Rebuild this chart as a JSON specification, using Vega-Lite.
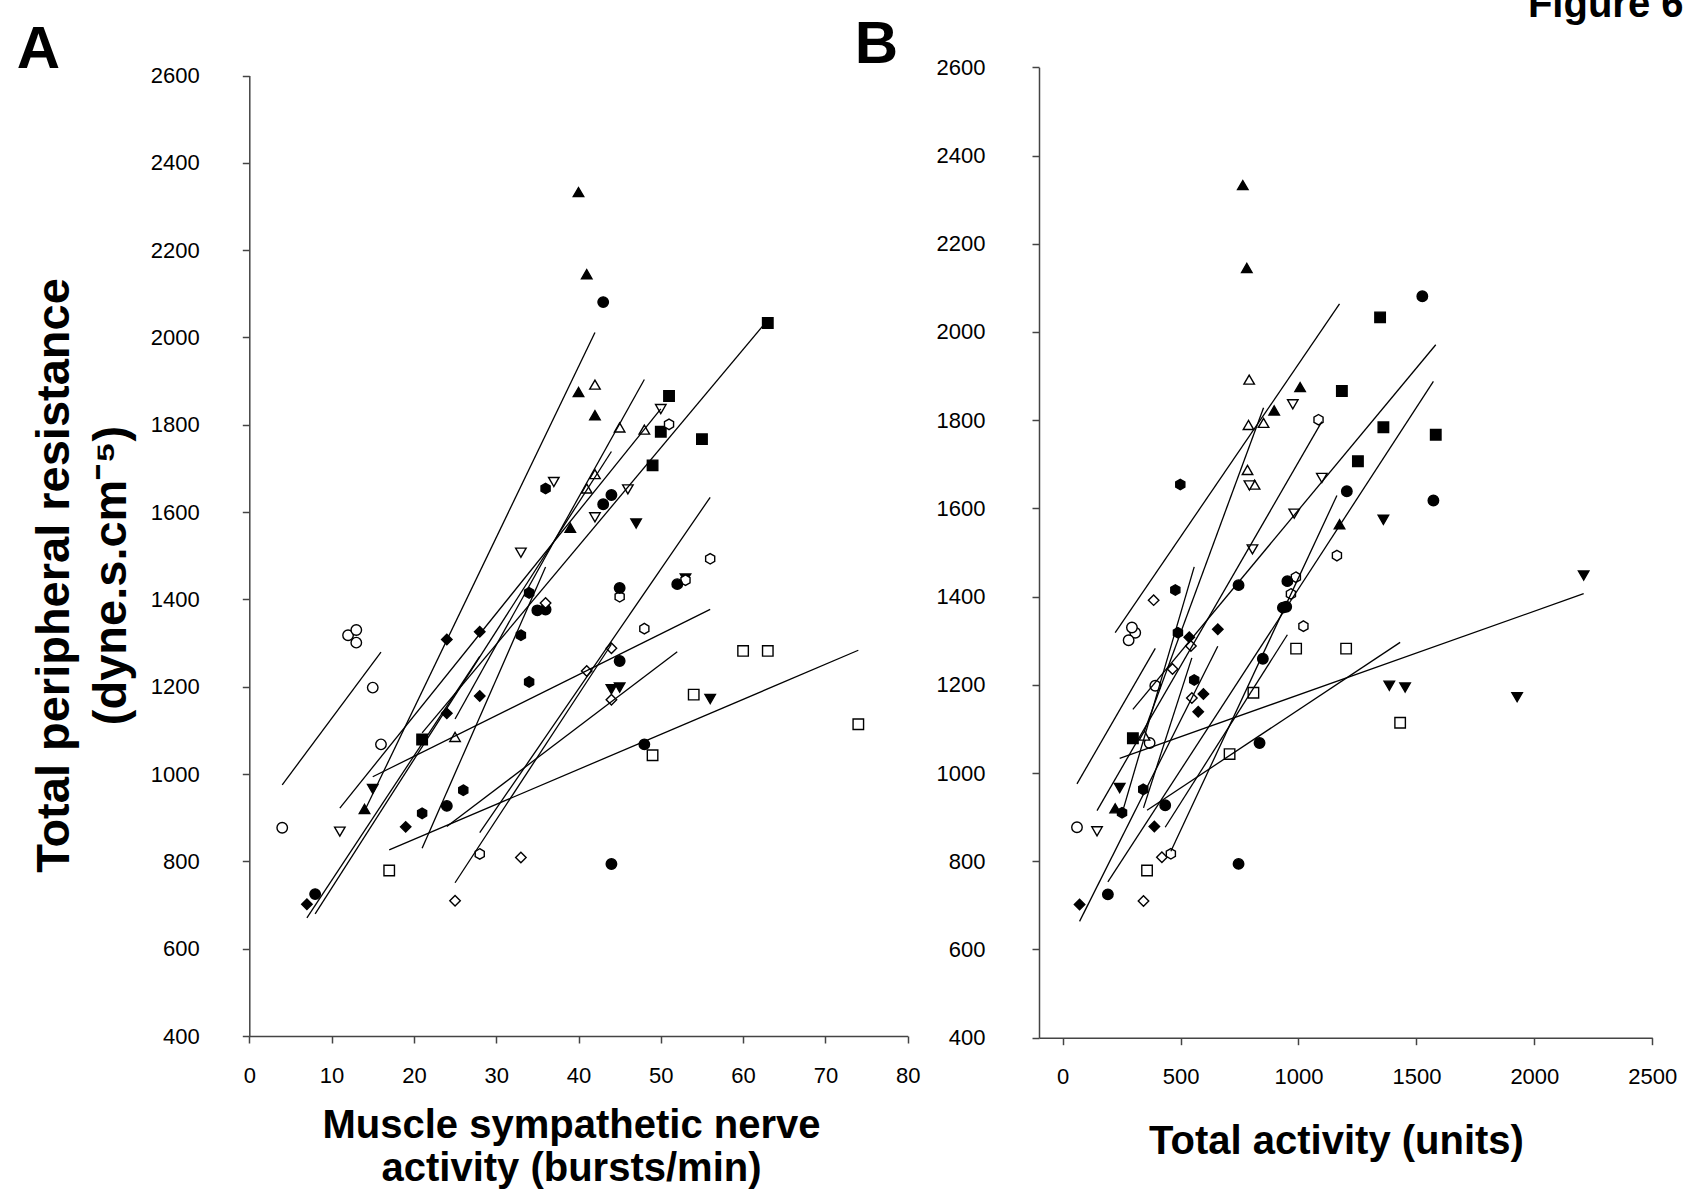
{
  "$schema": "https://vega.github.io/schema/vega-lite/v6.json",
  "width": 1692,
  "height": 1196,
  "autosize": {"type": "none"},
  "padding": 0,
  "background": "white",
  "config": {
    "view": {"stroke": null},
    "axis": {
      "grid": false,
      "labelFont": "Liberation Sans",
      "titleFont": "Liberation Sans",
      "labelFontSize": 22,
      "labelColor": "black",
      "titleColor": "black",
      "domainColor": "#444",
      "tickColor": "#444",
      "domainWidth": 1.5,
      "tickWidth": 1.5,
      "tickSize": 7,
      "labelFlush": false,
      "labelOverlap": false,
      "format": "d"
    }
  },
  "data": {
    "values": [
      {"s": "s1", "msna": 8, "ta": 192, "tpr": 725},
      {"s": "s1", "msna": 43, "ta": 1525, "tpr": 2081},
      {"s": "s1", "msna": 44, "ta": 1205, "tpr": 1639},
      {"s": "s1", "msna": 43, "ta": 1572, "tpr": 1618},
      {"s": "s1", "msna": 35, "ta": 934, "tpr": 1375},
      {"s": "s1", "msna": 36, "ta": 948, "tpr": 1377},
      {"s": "s2", "msna": 4, "ta": 61, "tpr": 877},
      {"s": "s2", "msna": 12, "ta": 308, "tpr": 1318},
      {"s": "s2", "msna": 13, "ta": 294, "tpr": 1330},
      {"s": "s2", "msna": 13, "ta": 280, "tpr": 1301},
      {"s": "s2", "msna": 15, "ta": 393, "tpr": 1198},
      {"s": "s2", "msna": 16, "ta": 369, "tpr": 1068},
      {"s": "s3", "msna": 15, "ta": 242, "tpr": 966},
      {"s": "s3", "msna": 44, "ta": 1452, "tpr": 1194},
      {"s": "s3", "msna": 45, "ta": 1385, "tpr": 1198},
      {"s": "s3", "msna": 47, "ta": 1360, "tpr": 1574},
      {"s": "s3", "msna": 56, "ta": 1927, "tpr": 1172},
      {"s": "s3", "msna": 53, "ta": 2209, "tpr": 1448},
      {"s": "s4", "msna": 42, "ta": 791, "tpr": 1892},
      {"s": "s4", "msna": 45, "ta": 852, "tpr": 1794},
      {"s": "s4", "msna": 48, "ta": 788, "tpr": 1789},
      {"s": "s4", "msna": 42, "ta": 784, "tpr": 1687},
      {"s": "s4", "msna": 41, "ta": 814, "tpr": 1654},
      {"s": "s4", "msna": 25, "ta": 347, "tpr": 1085},
      {"s": "s5", "msna": 21, "ta": 298, "tpr": 1079},
      {"s": "s5", "msna": 49, "ta": 1252, "tpr": 1707},
      {"s": "s5", "msna": 50, "ta": 1360, "tpr": 1784},
      {"s": "s5", "msna": 51, "ta": 1184, "tpr": 1866},
      {"s": "s5", "msna": 55, "ta": 1582, "tpr": 1767},
      {"s": "s5", "msna": 63, "ta": 1346, "tpr": 2033},
      {"s": "s6", "msna": 17, "ta": 358, "tpr": 779},
      {"s": "s6", "msna": 49, "ta": 708, "tpr": 1043},
      {"s": "s6", "msna": 54, "ta": 809, "tpr": 1182},
      {"s": "s6", "msna": 60, "ta": 990, "tpr": 1282},
      {"s": "s6", "msna": 63, "ta": 1202, "tpr": 1282},
      {"s": "s6", "msna": 74, "ta": 1431, "tpr": 1114},
      {"s": "s7", "msna": 7, "ta": 72, "tpr": 702},
      {"s": "s7", "msna": 19, "ta": 389, "tpr": 879},
      {"s": "s7", "msna": 24, "ta": 575, "tpr": 1139},
      {"s": "s7", "msna": 24, "ta": 537, "tpr": 1308},
      {"s": "s7", "msna": 28, "ta": 658, "tpr": 1326},
      {"s": "s7", "msna": 28, "ta": 597, "tpr": 1179},
      {"s": "s8", "msna": 25, "ta": 343, "tpr": 710},
      {"s": "s8", "msna": 33, "ta": 421, "tpr": 809},
      {"s": "s8", "msna": 36, "ta": 386, "tpr": 1392},
      {"s": "s8", "msna": 41, "ta": 466, "tpr": 1236},
      {"s": "s8", "msna": 44, "ta": 544, "tpr": 1288},
      {"s": "s8", "msna": 44, "ta": 548, "tpr": 1170},
      {"s": "s9", "msna": 14, "ta": 223, "tpr": 920},
      {"s": "s9", "msna": 39, "ta": 1174, "tpr": 1564},
      {"s": "s9", "msna": 40, "ta": 764, "tpr": 2333},
      {"s": "s9", "msna": 41, "ta": 781, "tpr": 2145},
      {"s": "s9", "msna": 40, "ta": 1007, "tpr": 1875},
      {"s": "s9", "msna": 42, "ta": 897, "tpr": 1822},
      {"s": "s10", "msna": 50, "ta": 976, "tpr": 1836},
      {"s": "s10", "msna": 37, "ta": 1099, "tpr": 1669},
      {"s": "s10", "msna": 46, "ta": 792, "tpr": 1652},
      {"s": "s10", "msna": 42, "ta": 982, "tpr": 1588},
      {"s": "s10", "msna": 33, "ta": 805, "tpr": 1507},
      {"s": "s10", "msna": 11, "ta": 146, "tpr": 868},
      {"s": "s11", "msna": 21, "ta": 252, "tpr": 910},
      {"s": "s11", "msna": 26, "ta": 342, "tpr": 963},
      {"s": "s11", "msna": 34, "ta": 478, "tpr": 1415},
      {"s": "s11", "msna": 36, "ta": 499, "tpr": 1654},
      {"s": "s11", "msna": 33, "ta": 489, "tpr": 1318},
      {"s": "s11", "msna": 34, "ta": 558, "tpr": 1211},
      {"s": "s12", "msna": 51, "ta": 1085, "tpr": 1801},
      {"s": "s12", "msna": 56, "ta": 1163, "tpr": 1493},
      {"s": "s12", "msna": 53, "ta": 989, "tpr": 1444},
      {"s": "s12", "msna": 45, "ta": 968, "tpr": 1406},
      {"s": "s12", "msna": 48, "ta": 1021, "tpr": 1333},
      {"s": "s12", "msna": 28, "ta": 459, "tpr": 817},
      {"s": "s13", "msna": 24, "ta": 435, "tpr": 927},
      {"s": "s13", "msna": 44, "ta": 746, "tpr": 794},
      {"s": "s13", "msna": 48, "ta": 835, "tpr": 1068},
      {"s": "s13", "msna": 45, "ta": 849, "tpr": 1259},
      {"s": "s13", "msna": 45, "ta": 746, "tpr": 1426},
      {"s": "s13", "msna": 52, "ta": 953, "tpr": 1435}
    ]
  },
  "resolve": {
    "scale": {"x": "independent", "y": "independent"},
    "axis": {"x": "independent", "y": "independent"}
  },
  "layer": [
    {
      "mark": {"type": "point", "filled": true, "stroke": "black", "strokeWidth": 1.4, "opacity": 1, "size": 110},
      "encoding": {
        "x": {
          "field": "msna", "type": "quantitative",
          "scale": {"domain": [0, 80], "range": [249.3, 907.7], "nice": false, "zero": false},
          "axis": {
            "orient": "bottom", "offset": -160,
            "values": [0, 10, 20, 30, 40, 50, 60, 70, 80],
            "labelPadding": 22,
            "title": ["Muscle sympathetic nerve", "activity (bursts/min)"],
            "titleFontSize": 40, "titleFontWeight": "bold",
            "titleX": 571, "titleY": 89.5, "titleAlign": "center", "titleBaseline": "middle",
            "titleLineHeight": 43, "titleAngle": 0
          }
        },
        "y": {
          "field": "tpr", "type": "quantitative",
          "scale": {"domain": [400, 2600], "range": [1036, 75.5], "nice": false, "zero": false},
          "axis": {
            "orient": "left", "offset": -249.3,
            "values": [400, 600, 800, 1000, 1200, 1400, 1600, 1800, 2000, 2200, 2400, 2600],
            "labelPadding": 43,
            "title": ["Total peripheral resistance", "(dyne.s.cm⁻⁵)"],
            "titleFontSize": 47, "titleFontWeight": "bold",
            "titleAngle": -90, "titleX": -195.3, "titleY": 575,
            "titleAlign": "center", "titleBaseline": "middle", "titleLineHeight": 57
          }
        },
        "shape": {
          "field": "s", "type": "nominal", "legend": null,
          "scale": {
            "domain": ["s1","s2","s3","s4","s5","s6","s7","s8","s9","s10","s11","s12","s13"],
            "range": ["circle","circle","triangle-down","triangle-up","square","square","diamond","diamond","triangle-up","triangle-down","M0,-1L0.866,-0.5L0.866,0.5L0,1L-0.866,0.5L-0.866,-0.5Z","M0,-1L0.866,-0.5L0.866,0.5L0,1L-0.866,0.5L-0.866,-0.5Z","circle"]
          }
        },
        "fill": {
          "field": "s", "type": "nominal", "legend": null,
          "scale": {
            "domain": ["s1","s2","s3","s4","s5","s6","s7","s8","s9","s10","s11","s12","s13"],
            "range": ["black","white","black","white","black","white","black","white","black","white","black","white","black"]
          }
        }
      }
    },
    {
      "transform": [{"regression": "tpr", "on": "msna", "groupby": ["s"]}],
      "mark": {"type": "line", "color": "black", "strokeWidth": 1.3},
      "encoding": {
        "x": {
          "field": "msna", "type": "quantitative",
          "scale": {"domain": [0, 80], "range": [249.3, 907.7], "nice": false, "zero": false},
          "axis": {
            "orient": "top", "offset": 0, "domain": false, "ticks": false, "labels": false,
            "title": "A", "titleFontSize": 60, "titleFontWeight": "bold",
            "titleX": 38, "titleY": 49, "titleAlign": "center", "titleBaseline": "middle", "titleAngle": 0
          }
        },
        "y": {
          "field": "tpr", "type": "quantitative",
          "scale": {"domain": [400, 2600], "range": [1036, 75.5], "nice": false, "zero": false},
          "axis": null
        },
        "detail": {"field": "s", "type": "nominal"}
      }
    },
    {
      "mark": {"type": "point", "filled": true, "stroke": "black", "strokeWidth": 1.4, "opacity": 1, "size": 110},
      "encoding": {
        "x": {
          "field": "ta", "type": "quantitative",
          "scale": {"domain": [-100, 2500], "range": [1039, 1652.3], "nice": false, "zero": false},
          "axis": {
            "orient": "bottom", "offset": -158.3,
            "values": [0, 500, 1000, 1500, 2000, 2500],
            "labelPadding": 22,
            "title": "Total activity (units)",
            "titleFontSize": 40, "titleFontWeight": "bold",
            "titleX": 1336, "titleY": 104, "titleAlign": "center", "titleBaseline": "middle", "titleAngle": 0
          }
        },
        "y": {
          "field": "tpr", "type": "quantitative",
          "scale": {"domain": [400, 2600], "range": [1037.7, 67.3], "nice": false, "zero": false},
          "axis": {
            "orient": "left", "offset": -1039,
            "values": [400, 600, 800, 1000, 1200, 1400, 1600, 1800, 2000, 2200, 2400, 2600],
            "labelPadding": 47,
            "title": null
          }
        },
        "shape": {
          "field": "s", "type": "nominal", "legend": null,
          "scale": {
            "domain": ["s1","s2","s3","s4","s5","s6","s7","s8","s9","s10","s11","s12","s13"],
            "range": ["circle","circle","triangle-down","triangle-up","square","square","diamond","diamond","triangle-up","triangle-down","M0,-1L0.866,-0.5L0.866,0.5L0,1L-0.866,0.5L-0.866,-0.5Z","M0,-1L0.866,-0.5L0.866,0.5L0,1L-0.866,0.5L-0.866,-0.5Z","circle"]
          }
        },
        "fill": {
          "field": "s", "type": "nominal", "legend": null,
          "scale": {
            "domain": ["s1","s2","s3","s4","s5","s6","s7","s8","s9","s10","s11","s12","s13"],
            "range": ["black","white","black","white","black","white","black","white","black","white","black","white","black"]
          }
        }
      }
    },
    {
      "transform": [{"regression": "tpr", "on": "ta", "groupby": ["s"]}],
      "mark": {"type": "line", "color": "black", "strokeWidth": 1.3},
      "encoding": {
        "x": {
          "field": "ta", "type": "quantitative",
          "scale": {"domain": [-100, 2500], "range": [1039, 1652.3], "nice": false, "zero": false},
          "axis": {
            "orient": "top", "offset": 0, "domain": false, "ticks": false, "labels": false,
            "title": "B", "titleFontSize": 60, "titleFontWeight": "bold",
            "titleX": 876, "titleY": 44, "titleAlign": "center", "titleBaseline": "middle", "titleAngle": 0
          }
        },
        "y": {
          "field": "tpr", "type": "quantitative",
          "scale": {"domain": [400, 2600], "range": [1037.7, 67.3], "nice": false, "zero": false},
          "axis": {
            "orient": "right", "offset": -1692, "domain": false, "ticks": false, "labels": false,
            "title": "Figure 6", "titleFontSize": 40, "titleFontWeight": "bold",
            "titleX": 1683, "titleY": 16, "titleAlign": "right", "titleBaseline": "alphabetic", "titleAngle": 0
          }
        },
        "detail": {"field": "s", "type": "nominal"}
      }
    }
  ]
}
